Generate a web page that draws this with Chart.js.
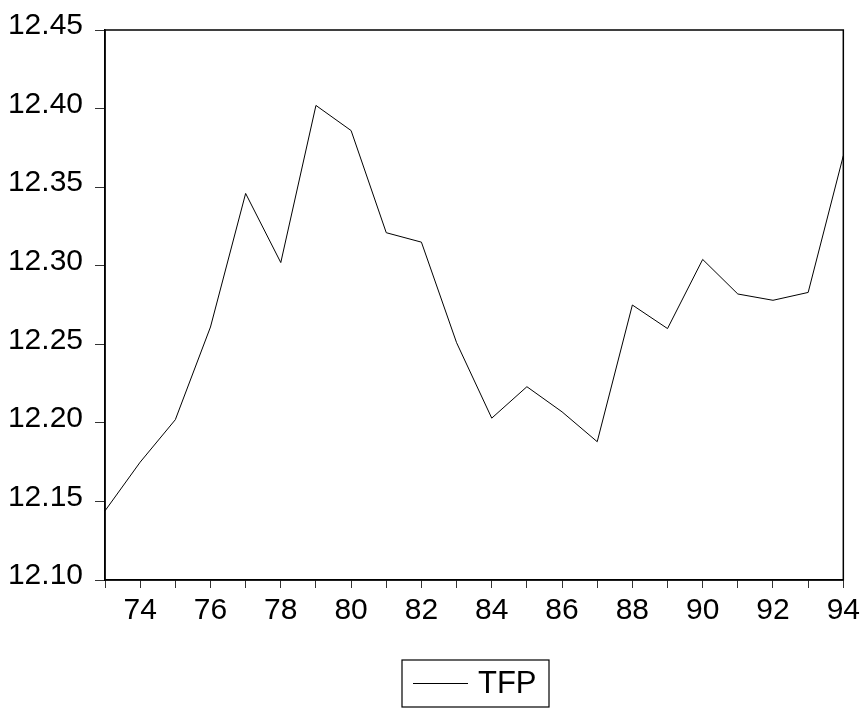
<!DOCTYPE html>
<html>
<head>
<meta charset="utf-8">
<script src="https://cdn.jsdelivr.net/npm/chart.js@4"></script>
<style>
  html, body { margin: 0; padding: 0; background: #fff; }
  #wrap { width: 865px; height: 708px; }
</style>
</head>
<body>
<div id="wrap"><canvas id="chart"></canvas></div>
<script>
'use strict';

// ****************************************
//              DATA
// ****************************************

let years = ['73', '74', '75', '76', '77', '78', '79', '80', '81', '82', '83',
  '84', '85', '86', '87', '88', '89', '90', '91', '92', '93', '94'];

let tfpValues = [12.144, 12.175, 12.202, 12.261, 12.346, 12.302, 12.402, 12.386,
  12.321, 12.315, 12.251, 12.203, 12.223, 12.207, 12.188, 12.275, 12.260,
  12.304, 12.282, 12.278, 12.283, 12.370];

let seriesName = 'TFP';
let yMin = 12.10;
let yMax = 12.45;
let yStep = 0.05;

const FONT = 'Liberation Sans, Arial, sans-serif';

// ****************************************
//              PLUGINS
// ****************************************

// closes the box around the plot area (top + right sides)
const frameBox = {
  id: 'frameBox',
  afterDraw(chart) {
    let ctx = chart.ctx;
    let a = chart.chartArea;
    ctx.save();
    ctx.strokeStyle = '#000';
    ctx.lineWidth = 1.5;
    ctx.strokeRect(a.left, a.top, a.right - a.left, a.bottom - a.top);
    ctx.restore();
  }
};

// boxed legend under the axis, like the eviews one
const boxLegend = {
  id: 'boxLegend',
  afterDraw(chart) {
    let ctx = chart.ctx;
    let ds = chart.data.datasets[0];
    ctx.save();
    ctx.strokeStyle = '#000';
    ctx.lineWidth = 1.2;
    ctx.strokeRect(402, 660, 147, 47);
    ctx.beginPath();
    ctx.strokeStyle = ds.borderColor;
    ctx.lineWidth = 1;
    ctx.moveTo(413, 683.5);
    ctx.lineTo(468, 683.5);
    ctx.stroke();
    ctx.fillStyle = '#000';
    ctx.font = '31px ' + FONT;
    ctx.textBaseline = 'middle';
    ctx.textAlign = 'left';
    ctx.fillText(ds.label, 478, 684);
    ctx.restore();
  }
};

// ****************************************
//              CHART
// ****************************************

let ctx = document.getElementById('chart');

new Chart(ctx, {
  type: 'line',
  data: {
    labels: years,
    datasets: [{
      label: seriesName,
      data: tfpValues,
      borderColor: '#000',
      borderWidth: 1,
      pointRadius: 0,
      tension: 0,
      fill: false
    }]
  },
  options: {
    responsive: true,
    maintainAspectRatio: false,
    animation: false,
    layout: { padding: { left: 0, right: 20, top: 26, bottom: 0 } },
    plugins: {
      legend: { display: false },
      tooltip: { enabled: false }
    },
    scales: {
      x: {
        type: 'category',
        offset: false,
        afterFit(scale) { scale.height = 128; },
        grid: {
          drawOnChartArea: false,
          drawTicks: true,
          tickLength: 8,
          color: '#333',
          lineWidth: 1
        },
        border: { display: true, color: '#000', width: 1.5 },
        ticks: {
          autoSkip: false,
          maxRotation: 0,
          padding: 5,
          color: '#000',
          font: { family: FONT, size: 30 },
          callback: function (val, i) {
            return i % 2 === 1 ? years[i] : '';
          }
        }
      },
      y: {
        min: yMin,
        max: yMax,
        afterFit(scale) { scale.width = 105; },
        grid: {
          drawOnChartArea: false,
          drawTicks: true,
          tickLength: 10,
          color: '#333',
          lineWidth: 1
        },
        border: { display: true, color: '#000', width: 1.5 },
        ticks: {
          stepSize: yStep,
          padding: 12,
          labelOffset: -4,
          color: '#000',
          font: { family: FONT, size: 30 },
          callback: function (val) {
            return val.toFixed(2);
          }
        }
      }
    }
  },
  plugins: [frameBox, boxLegend]
});
</script>
</body>
</html>
